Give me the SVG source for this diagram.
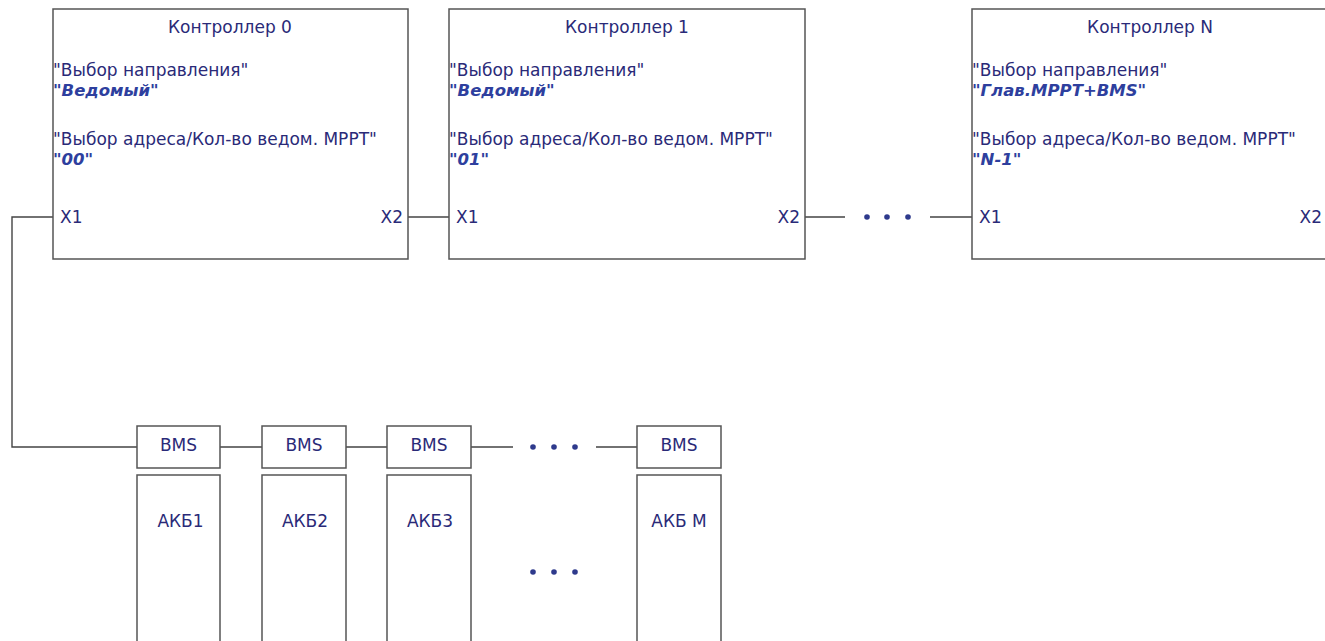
<svg xmlns="http://www.w3.org/2000/svg" width="1325" height="641" viewBox="0 0 1325 641">
<style>
.box{fill:#fff;stroke:#555;stroke-width:1.5}
.ln{fill:none;stroke:#444;stroke-width:1.4}
.t{font-family:"DejaVu Sans",Verdana,sans-serif;font-size:17px;fill:#2a2a78}
.c{text-anchor:middle}
.v{font-family:"DejaVu Sans",Verdana,sans-serif;font-size:16.5px;font-weight:bold;font-style:italic;fill:#2e3f9e}
.dot{fill:#2e3a8c}
</style>
<rect width="1325" height="641" fill="#fff"/>
<g id="connectors">
<path class="ln" d="M53 217H12V447H137"/>
<path class="ln" d="M408 217H449"/>
<path class="ln" d="M805 217H845M930 217H972"/>
<path class="ln" d="M220 447H262M346 447H387M471 447H513M596 447H637"/>
<circle class="dot" cx="867" cy="217" r="2.8"/><circle class="dot" cx="887" cy="217" r="2.8"/><circle class="dot" cx="908" cy="217" r="2.8"/>
<circle class="dot" cx="533" cy="447" r="2.8"/><circle class="dot" cx="554" cy="447" r="2.8"/><circle class="dot" cx="575" cy="447" r="2.8"/>
<circle class="dot" cx="533" cy="572" r="2.8"/><circle class="dot" cx="554" cy="572" r="2.8"/><circle class="dot" cx="575" cy="572" r="2.8"/>
</g>
<g id="ctrl0">
<rect class="box" x="53" y="9" width="355" height="250"/>
<text class="t c" x="230" y="33">Контроллер 0</text>
<text class="t" x="53" y="76">"Выбор направления"</text>
<text class="v" x="53" y="96">"Ведомый"</text>
<text class="t" x="53" y="145">"Выбор адреса/Кол-во ведом. MPPT"</text>
<text class="v" x="53" y="165">"00"</text>
<text class="t" x="60" y="223">X1</text>
<text class="t" x="403" y="223" text-anchor="end">X2</text>
</g>
<g id="ctrl1">
<rect class="box" x="449" y="9" width="356" height="250"/>
<text class="t c" x="627" y="33">Контроллер 1</text>
<text class="t" x="449" y="76">"Выбор направления"</text>
<text class="v" x="449" y="96">"Ведомый"</text>
<text class="t" x="449" y="145">"Выбор адреса/Кол-во ведом. MPPT"</text>
<text class="v" x="449" y="165">"01"</text>
<text class="t" x="456" y="223">X1</text>
<text class="t" x="800" y="223" text-anchor="end">X2</text>
</g>
<g id="ctrlN">
<rect class="box" x="972" y="9" width="356" height="250"/>
<text class="t c" x="1150" y="33">Контроллер N</text>
<text class="t" x="972" y="76">"Выбор направления"</text>
<text class="v" x="972" y="96">"Глав.MPPT+BMS"</text>
<text class="t" x="972" y="145">"Выбор адреса/Кол-во ведом. MPPT"</text>
<text class="v" x="972" y="165">"N-1"</text>
<text class="t" x="979" y="223">X1</text>
<text class="t" x="1322" y="223" text-anchor="end">X2</text>
</g>
<g id="bms1"><rect class="box" x="137" y="426" width="83" height="42"/><text class="t c" x="178.5" y="451">BMS</text></g>
<g id="bms2"><rect class="box" x="262" y="426" width="84" height="42"/><text class="t c" x="304" y="451">BMS</text></g>
<g id="bms3"><rect class="box" x="387" y="426" width="84" height="42"/><text class="t c" x="429" y="451">BMS</text></g>
<g id="bmsM"><rect class="box" x="637" y="426" width="84" height="42"/><text class="t c" x="679" y="451">BMS</text></g>
<g id="akb1"><rect class="box" x="137" y="475" width="83" height="175"/><text class="t c" x="180.5" y="527">АКБ1</text></g>
<g id="akb2"><rect class="box" x="262" y="475" width="84" height="175"/><text class="t c" x="305" y="527">АКБ2</text></g>
<g id="akb3"><rect class="box" x="387" y="475" width="84" height="175"/><text class="t c" x="430" y="527">АКБ3</text></g>
<g id="akbM"><rect class="box" x="637" y="475" width="84" height="175"/><text class="t c" x="679" y="527">АКБ М</text></g>
</svg>
